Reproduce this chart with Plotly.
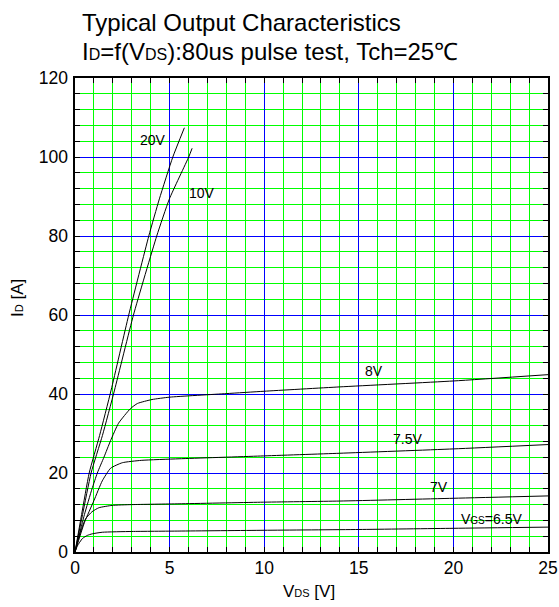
import plotly.graph_objects as go

# Drain-source voltage / drain current points for each gate voltage
vds_20v = [0, 0.35, 0.75, 1.3, 1.91, 2.84, 3.9, 4.46, 5.17, 5.78]
id_20v = [0, 9.5, 20, 29.5, 41, 60, 80, 89.4, 100, 107.4]

vds_10v = [0, 0.4, 0.85, 1.45, 2.09, 3.09, 4.32, 4.99, 6.01, 6.19]
id_10v = [0, 9.5, 20, 29.5, 41, 60, 80, 89.4, 100, 102.2]

vds_8v = [0, 0.5, 0.9, 1.18, 1.53, 1.88, 2.3, 2.93, 3.3, 4.07, 5.0, 8.0, 10, 14, 20, 25]
id_8v = [0, 9.5, 16, 20, 24, 28.2, 32.6, 36.3, 37.6, 38.6, 39.2, 40.1, 40.7, 41.8, 43.3, 44.9]

vds_75v = [0, 0.5, 1.0, 1.44, 1.88, 2.5, 3.5, 5.5, 9.8, 14, 20, 25]
id_75v = [0, 7.5, 13, 18, 21.2, 22.6, 23.2, 23.6, 24.3, 25.0, 26.1, 27.2]

vds_7v = [0, 0.25, 0.56, 0.9, 1.26, 1.96, 3.0, 5.5, 9.8, 14, 20, 25]
id_7v = [0, 4.5, 8.4, 10.2, 11.2, 11.8, 12.0, 12.2, 12.6, 12.9, 13.6, 14.2]

vds_65v = [0, 0.12, 0.39, 0.65, 0.91, 1.44, 3.0, 5.5, 10, 15, 20, 25]
id_65v = [0, 1.5, 3.4, 4.2, 4.6, 5.0, 5.2, 5.3, 5.5, 5.7, 6.0, 6.3]

series = [
    (vds_20v, id_20v),
    (vds_10v, id_10v),
    (vds_8v, id_8v),
    (vds_75v, id_75v),
    (vds_7v, id_7v),
    (vds_65v, id_65v),
]

# Curve labels: text and the (V, A) point where each is written
label_text = ["20V", "10V", "8V", "7.5V", "7V",
              "V<span style='font-size:10px'>GS</span>=6.5V"]
label_x = [4.11, 6.72, 15.78, 17.58, 19.25, 22.0]
label_y = [104.3, 90.9, 45.75, 28.55, 16.5, 8.45]

title_lines = [
    "Typical Output Characteristics",
    "I<span style='font-size:16px'>D</span>=f(V<span style='font-size:16px'>DS</span>):"
    "80us pulse test, Tch=25℃",
]
# offsets of the two title boxes above the plot frame (px)
title_shift = [40, 11]

FONT = "Arial, Liberation Sans, sans-serif"
GREEN = "#00ff00"
BLUE = "#0000ff"

fig = go.Figure()
# empty trace keeps the fine-grid base axes drawn
fig.add_trace(go.Scatter(x=[], y=[], xaxis="x", yaxis="y",
                         showlegend=False, hoverinfo="skip"))
for vx, iy in series:
    fig.add_trace(go.Scatter(
        x=vx, y=iy, mode="lines", xaxis="x2", yaxis="y2",
        line=dict(color="black", width=1, shape="spline", smoothing=0.5),
        showlegend=False, hoverinfo="skip",
    ))

for t, lx, ly in zip(label_text, label_x, label_y):
    fig.add_annotation(x=lx, y=ly, xref="x2", yref="y2", text=t,
                       showarrow=False,
                       font=dict(family=FONT, size=14, color="black"),
                       xanchor="center", yanchor="middle")

for t, s in zip(title_lines, title_shift):
    fig.add_annotation(x=0, y=1, xref="paper", yref="paper", text=t,
                       showarrow=False, xanchor="left", yanchor="bottom",
                       xshift=5, yshift=s,
                       font=dict(family=FONT, size=24, color="black"))

# axis titles
fig.add_annotation(x=0.495, y=0, xref="paper", yref="paper",
                   text="V<span style='font-size:11px'>DS</span> [V]",
                   showarrow=False, xanchor="center", yanchor="middle",
                   yshift=-39, font=dict(family=FONT, size=17, color="black"))
fig.add_annotation(x=0, y=0.536, xref="paper", yref="paper",
                   text="I<span style='font-size:11px'>D</span> [A]",
                   textangle=-90, showarrow=False,
                   xanchor="center", yanchor="middle", xshift=-57,
                   font=dict(family=FONT, size=17, color="black"))

fig.update_layout(
    width=559, height=607,
    margin=dict(l=75, r=11, t=78, b=55),
    paper_bgcolor="white", plot_bgcolor="white",
    font=dict(family=FONT, color="black"),
    # base axes: fine green grid, tick marks and frame
    xaxis=dict(range=[0, 25], dtick=1, tick0=0, automargin=False,
               showgrid=True, gridcolor=GREEN, gridwidth=1,
               ticks="inside", ticklen=5, tickcolor="black",
               showticklabels=False, showline=True, linecolor="black",
               linewidth=1.5, mirror="ticks", zeroline=False),
    yaxis=dict(range=[0, 120], dtick=4, tick0=0, automargin=False,
               showgrid=True, gridcolor=GREEN, gridwidth=1,
               ticks="inside", ticklen=5, tickcolor="black",
               showticklabels=False, showline=True, linecolor="black",
               linewidth=1.5, mirror="ticks", zeroline=False),
    # labelled axes: coarse blue grid and tick labels
    xaxis2=dict(range=[0, 25], dtick=5, tick0=0, automargin=False,
                overlaying="x", anchor="y2", side="bottom",
                showgrid=True, gridcolor=BLUE, gridwidth=1,
                ticks="", showline=False, zeroline=False,
                ticklabelstandoff=3,
                tickfont=dict(family=FONT, size=17.5, color="black")),
    yaxis2=dict(range=[0, 120], dtick=20, tick0=0, automargin=False,
                overlaying="y", anchor="x2", side="left",
                showgrid=True, gridcolor=BLUE, gridwidth=1,
                ticks="", showline=False, zeroline=False,
                ticklabelstandoff=6,
                tickfont=dict(family=FONT, size=17.5, color="black")),
)

fig.write_html("out.html")
